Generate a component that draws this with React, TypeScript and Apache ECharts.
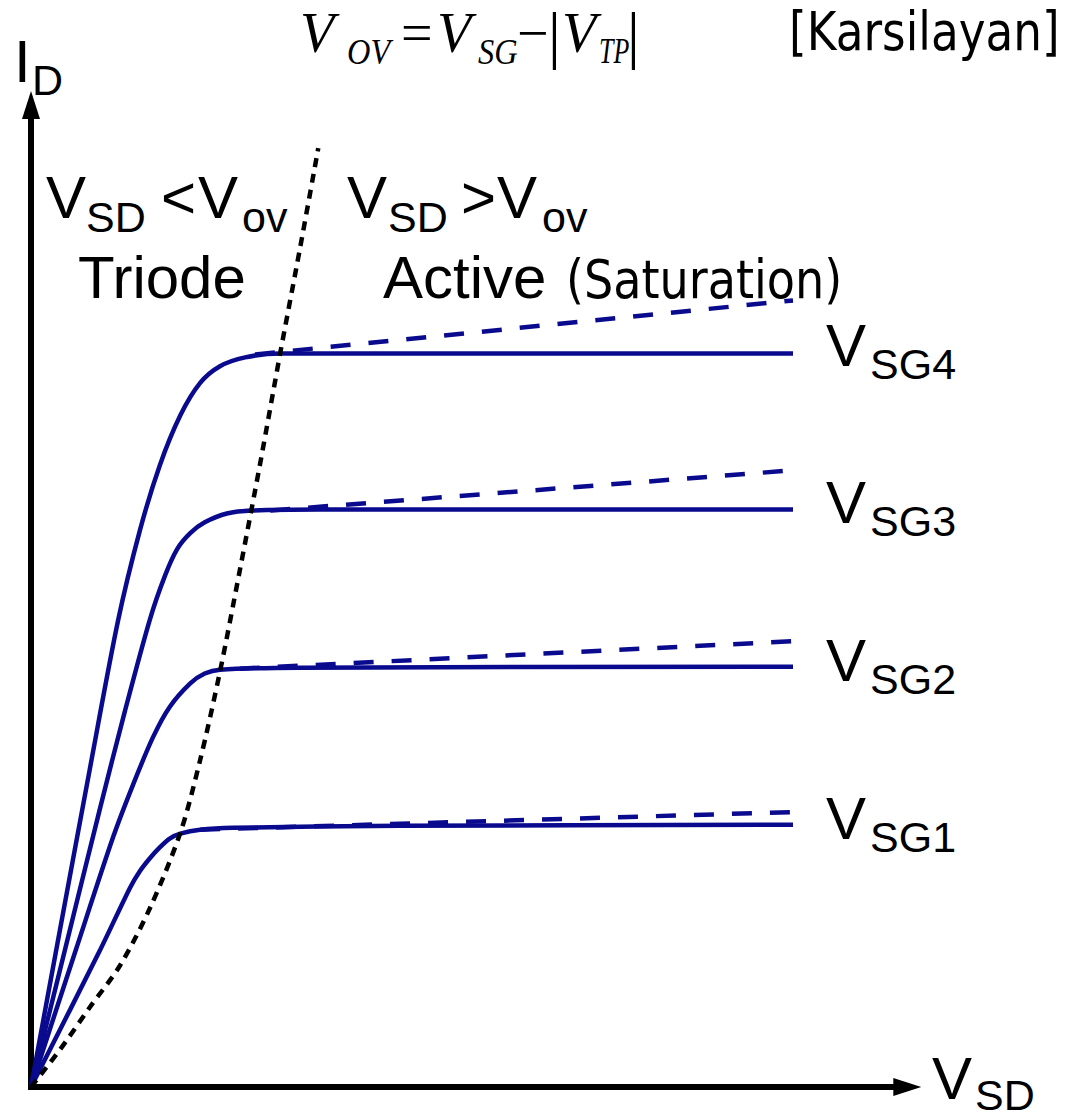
import React, { useEffect, useRef } from "react";
import * as echarts from "echarts";

// Axis extents (arbitrary units): V_SD horizontally, I_D vertically
const vsdMax = 11.5;
const idMax = 10;

// Solid I_D(V_SD) curves, one per gate drive V_SG1..V_SG4
const vsg4X = [0, 0.38, 0.77, 1.14, 1.43, 1.69, 1.96, 2.22, 2.48, 2.81, 3.27, 4.84, 10];
const vsg4Y = [0, 1.6, 3.23, 4.74, 5.67, 6.33, 6.84, 7.17, 7.34, 7.43, 7.47, 7.47, 7.47];

const vsg3X = [0, 0.45, 0.91, 1.23, 1.56, 1.76, 1.92, 2.09, 2.28, 2.57, 2.91, 3.79, 10];
const vsg3Y = [0, 1.41, 2.85, 3.82, 4.76, 5.21, 5.48, 5.64, 5.75, 5.84, 5.87, 5.88, 5.88];

const vsg2X = [0, 0.59, 1.08, 1.34, 1.6, 1.82, 2.09, 2.28, 2.48, 3.53, 10];
const vsg2Y = [0, 1.4, 2.55, 3.08, 3.56, 3.87, 4.11, 4.21, 4.25, 4.27, 4.28];

const vsg1X = [0, 0.91, 1.3, 1.43, 1.56, 1.69, 1.82, 1.96, 2.22, 2.65, 4.84, 10];
const vsg1Y = [0, 1.4, 2.03, 2.2, 2.33, 2.44, 2.53, 2.58, 2.62, 2.64, 2.66, 2.67];

// Dashed saturation lines with channel-length modulation
const clm4X = [2.94, 10];
const clm4Y = [7.46, 8.01];
const clm3X = [3.14, 10];
const clm3Y = [5.87, 6.28];
const clm2X = [2.74, 10];
const clm2Y = [4.26, 4.54];
const clm1X = [2.22, 10];
const clm1Y = [2.62, 2.8];

// Triode / saturation boundary, V_SD = V_OV
const edgeX = [0, 0.38, 0.77, 1.17, 1.56, 1.96, 2.22, 2.48, 2.74, 3.01, 3.27, 3.53, 3.77];
const edgeY = [0, 0.38, 0.81, 1.24, 1.82, 2.59, 3.33, 4.23, 5.26, 6.36, 7.47, 8.54, 9.56];

const curveLabels = ["SG4", "SG3", "SG2", "SG1"];
const labelRows = [353, 510, 668, 826];

const BLUE = "#0a0a8e";
const SANS = '"Liberation Sans", Arial, sans-serif';
const SERIF = '"Liberation Serif", "Times New Roman", serif';
const TAHOMA = '"DejaVu Sans", Verdana, sans-serif';

const zip = (xs: number[], ys: number[]) => xs.map((x, i) => [x, ys[i]]);

function txt(
  text: string,
  x: number,
  y: number,
  size: number,
  family: string,
  extra: { italic?: boolean; scaleX?: number } = {}
) {
  return {
    type: "text",
    x,
    y,
    scaleX: extra.scaleX ?? 1,
    silent: true,
    z: 100,
    style: {
      text,
      fill: "#000",
      font: `${extra.italic ? "italic " : ""}${size}px ${family}`,
      align: "left",
      textAlign: "left",
      verticalAlign: "middle",
      textVerticalAlign: "middle",
    },
  };
}

function solid(name: string, xs: number[], ys: number[]) {
  return {
    name,
    type: "line",
    data: zip(xs, ys),
    showSymbol: false,
    symbol: "none",
    smooth: 0.3,
    lineStyle: { color: BLUE, width: 4.5, type: "solid" },
    z: 3,
  };
}

function dashed(name: string, xs: number[], ys: number[]) {
  return {
    name,
    type: "line",
    data: zip(xs, ys),
    showSymbol: false,
    symbol: "none",
    lineStyle: { color: BLUE, width: 4.5, type: [20, 18], cap: "butt" },
    z: 2,
  };
}

export default function App() {
  const ref = useRef<HTMLDivElement>(null);

  useEffect(() => {
    if (!ref.current) return;
    const chart = echarts.init(ref.current, null, { renderer: "svg" });

    const axisLine = {
      show: true,
      onZero: false,
      symbol: ["none", "triangle"],
      symbolSize: [18, 28],
      lineStyle: { color: "#000", width: 6, cap: "square" },
    };

    const graphics: any[] = [
      // equation
      txt("V", 300, 33, 56, SERIF, { italic: true }),
      txt("OV", 347, 50.9, 36, SERIF, { italic: true, scaleX: 0.9 }),
      txt("=", 401, 33, 56, SERIF),
      txt("V", 437, 33, 56, SERIF, { italic: true }),
      txt("SG", 478, 50.9, 36, SERIF, { italic: true, scaleX: 0.9 }),
      txt("\u2212", 517, 33, 56, SERIF),
      txt("|", 548, 34.4, 64, SERIF),
      txt("V", 562, 33, 56, SERIF, { italic: true }),
      txt("TP", 599, 50.9, 36, SERIF, { italic: true, scaleX: 0.72 }),
      txt("|", 627, 34.4, 64, SERIF),
      // citation
      txt("[Karsilayan]", 789, 31.3, 54, TAHOMA, { scaleX: 0.84 }),
      // axis names
      txt("I", 14, 61.2, 60, SANS),
      txt("D", 32, 80.1, 43, SANS),
      txt("V", 932, 1078.2, 60, SANS),
      txt("SD", 975, 1094.5, 43, SANS),
      // triode region
      txt("V", 46, 197.2, 60, SANS),
      txt("SD", 86, 217.1, 43, SANS),
      txt("<", 161, 197.2, 60, SANS),
      txt("V", 198, 197.2, 60, SANS),
      txt("ov", 242, 217.1, 43, SANS),
      txt("Triode", 78, 277.2, 60, SANS),
      // saturation region
      txt("V", 347, 197.2, 60, SANS),
      txt("SD", 388, 217.1, 43, SANS),
      txt(">", 461, 197.2, 60, SANS),
      txt("V", 497, 197.2, 60, SANS),
      txt("ov", 542, 217.1, 43, SANS),
      txt("Active", 383, 277.2, 60, SANS),
      txt("(Saturation)", 566, 279.7, 53, TAHOMA, { scaleX: 0.87 }),
    ];

    curveLabels.forEach((sub, i) => {
      const row = labelRows[i];
      graphics.push(txt("V", 826, row - 7.8, 60, SANS));
      graphics.push(txt(sub, 870, row + 11.1, 43, SANS));
    });

    chart.setOption({
      animation: false,
      backgroundColor: "#ffffff",
      grid: { left: 31, right: 176.7, top: 105, bottom: 30, containLabel: false },
      xAxis: {
        type: "value",
        min: 0,
        max: vsdMax,
        axisLine,
        axisTick: { show: false },
        axisLabel: { show: false },
        splitLine: { show: false },
      },
      yAxis: {
        type: "value",
        min: 0,
        max: idMax,
        axisLine,
        axisTick: { show: false },
        axisLabel: { show: false },
        splitLine: { show: false },
      },
      series: [
        dashed("clm4", clm4X, clm4Y),
        dashed("clm3", clm3X, clm3Y),
        dashed("clm2", clm2X, clm2Y),
        dashed("clm1", clm1X, clm1Y),
        solid("VSG4", vsg4X, vsg4Y),
        solid("VSG3", vsg3X, vsg3Y),
        solid("VSG2", vsg2X, vsg2Y),
        solid("VSG1", vsg1X, vsg1Y),
        {
          name: "boundary",
          type: "line",
          data: zip(edgeX, edgeY),
          showSymbol: false,
          symbol: "none",
          smooth: 0.3,
          lineStyle: { color: "#000", width: 4.5, type: [9, 7], cap: "butt" },
          z: 5,
        },
      ],
      graphic: graphics,
    });

    return () => chart.dispose();
  }, []);

  return (
    <div
      ref={ref}
      style={{ position: "absolute", left: 0, top: 0, width: 1084, height: 1117, background: "#fff" }}
    />
  );
}
